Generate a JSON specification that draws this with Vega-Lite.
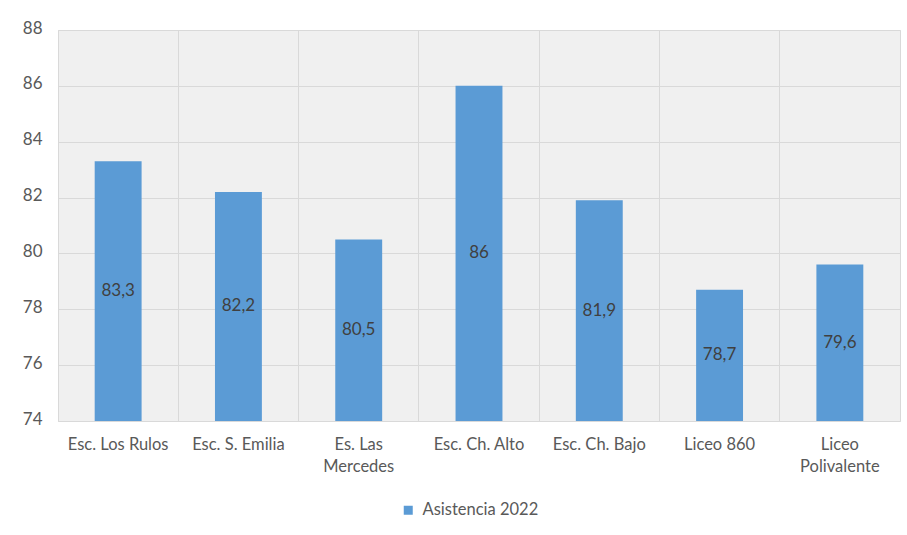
{
  "$schema": "https://vega.github.io/schema/vega-lite/v6.json",
  "width": 842,
  "height": 391,
  "autosize": "none",
  "padding": {"left": 58, "top": 30, "right": 7, "bottom": 114},
  "background": "white",
  "config": {
    "font": "Lato",
    "locale": {"number": {"decimal": ",", "thousands": ".", "grouping": [3], "currency": ["", " €"]}},
    "view": {"stroke": "#d9d9d9", "fill": "#f0f0f0"}
  },
  "data": {
    "values": [
      {"escuela": "Esc. Los Rulos", "asistencia": 83.3, "serie": "Asistencia 2022"},
      {"escuela": "Esc. S. Emilia", "asistencia": 82.2, "serie": "Asistencia 2022"},
      {"escuela": "Es. Las Mercedes", "asistencia": 80.5, "serie": "Asistencia 2022"},
      {"escuela": "Esc. Ch. Alto", "asistencia": 86, "serie": "Asistencia 2022"},
      {"escuela": "Esc. Ch. Bajo", "asistencia": 81.9, "serie": "Asistencia 2022"},
      {"escuela": "Liceo 860", "asistencia": 78.7, "serie": "Asistencia 2022"},
      {"escuela": "Liceo Polivalente", "asistencia": 79.6, "serie": "Asistencia 2022"}
    ]
  },
  "encoding": {
    "x": {
      "field": "escuela",
      "type": "nominal",
      "sort": null,
      "scale": {"paddingInner": 0, "paddingOuter": 0},
      "axis": {
        "title": null,
        "labelAngle": 0,
        "ticks": false,
        "domain": false,
        "grid": true,
        "bandPosition": 0,
        "gridColor": "#d9d9d9",
        "gridWidth": 1,
        "labelFontSize": 16.5,
        "labelColor": "#595959",
        "labelPadding": 15,
        "labelLineHeight": 22,
        "labelExpr": "datum.label == 'Es. Las Mercedes' ? ['Es. Las', 'Mercedes'] : datum.label == 'Liceo Polivalente' ? ['Liceo', 'Polivalente'] : datum.label"
      }
    }
  },
  "layer": [
    {
      "mark": {"type": "bar", "width": {"band": 0.39}, "color": "#5b9bd5"},
      "encoding": {
        "y": {
          "field": "asistencia",
          "type": "quantitative",
          "scale": {"domain": [74, 88], "zero": false, "nice": false},
          "axis": {
            "title": null,
            "values": [74, 76, 78, 80, 82, 84, 86, 88],
            "ticks": false,
            "domain": false,
            "gridColor": "#d9d9d9",
            "gridWidth": 1,
            "labelFontSize": 17,
            "labelColor": "#595959",
            "labelPadding": 16,
            "labelOffset": -2
          }
        },
        "y2": {"datum": 74},
        "color": {
          "field": "serie",
          "type": "nominal",
          "scale": {"range": ["#5b9bd5"]},
          "legend": {
            "title": null,
            "orient": "none",
            "legendX": 342,
            "legendY": 472,
            "symbolType": "square",
            "symbolSize": 81,
            "symbolStrokeWidth": 0,
            "labelFontSize": 16.5,
            "labelColor": "#595959",
            "labelOffset": 6
          }
        }
      }
    },
    {
      "transform": [{"calculate": "(datum.asistencia + 74) / 2", "as": "medio"}],
      "mark": {"type": "text", "fontSize": 17, "color": "#404040"},
      "encoding": {
        "y": {"field": "medio", "type": "quantitative"},
        "text": {"field": "asistencia", "type": "quantitative", "format": ".1~f"}
      }
    }
  ]
}
